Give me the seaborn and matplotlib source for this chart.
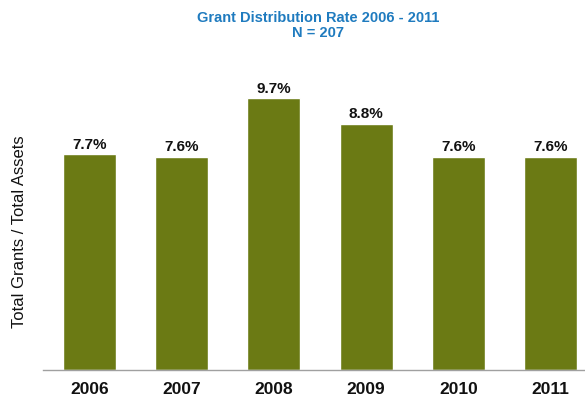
import matplotlib
matplotlib.use("Agg")
import matplotlib.pyplot as plt
import seaborn as sns
import pandas as pd

years = ["2006", "2007", "2008", "2009", "2010", "2011"]
rates = [7.7, 7.6, 9.7, 8.8, 7.6, 7.6]
labels = ["7.7%", "7.6%", "9.7%", "8.8%", "7.6%", "7.6%"]

sns.set_theme(style="white")
plt.rcParams['font.family'] = ['Liberation Sans', 'DejaVu Sans']

df = pd.DataFrame({"year": years, "rate": rates})

fig = plt.figure(figsize=(5.85, 3.97), dpi=100)
ax = fig.add_axes([43/585, 27/397, 542/585, 308/397])
sns.barplot(data=df, x="year", y="rate", color="#6b7a14", saturation=1,
            width=0.575, ax=ax)
ax.set_xlim(-0.504, 5.374)
ax.set_ylim(0, 11.0)
for p, lab in zip(ax.patches, labels):
    ax.annotate(lab, (p.get_x() + p.get_width() / 2, p.get_height()),
                xytext=(0, 2), textcoords="offset points", ha="center", va="bottom",
                fontsize=11, fontweight="bold", color="#111111")
ax.set_yticks([])
ax.set_xlabel("")
ax.set_ylabel("")
for s in ["top", "right", "left"]:
    ax.spines[s].set_visible(False)
ax.spines["bottom"].set_color("#a0a0a0")
ax.spines["bottom"].set_linewidth(1)
ax.tick_params(axis="x", length=0, pad=9, labelsize=12.5, labelcolor="#111111")
for t in ax.get_xticklabels():
    t.set_fontweight("bold")
fig.text(20/585, 1 - 232/397, "Total Grants / Total Assets", rotation=90,
         ha="center", va="center", fontsize=12, color="#111111")
fig.text(318/585, 1 - 18/397, "Grant Distribution Rate 2006 - 2011", ha="center",
         va="center", fontsize=10.5, fontweight="bold", color="#1f7bbf")
fig.text(318/585, 1 - 33/397, "N = 207", ha="center",
         va="center", fontsize=10.5, fontweight="bold", color="#1f7bbf")
fig.savefig("out.png", dpi=100)
